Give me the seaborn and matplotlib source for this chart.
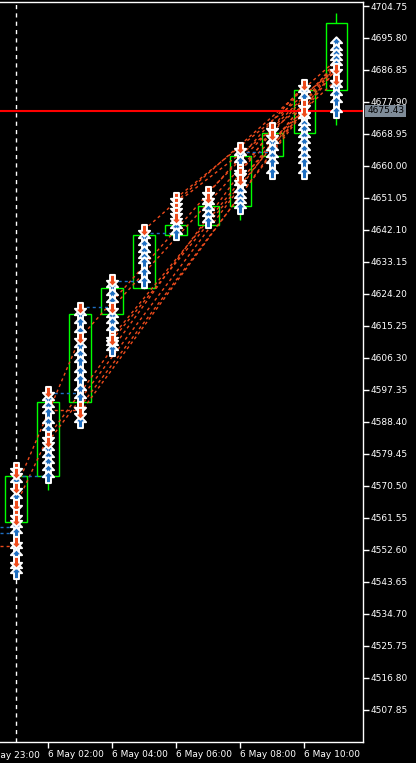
import numpy as np
import pandas as pd
import matplotlib.pyplot as plt
from matplotlib.path import Path
import seaborn as sns

# H1 candles, index 0 = 6 May 01:00
opens = [4560.4, 4573.3, 4594.0, 4618.6, 4625.9, 4640.7, 4643.5, 4648.8, 4662.8, 4669.2, 4681.3]
highs = [4576.9, 4597.9, 4621.4, 4629.2, 4642.9, 4651.6, 4653.8, 4665.6, 4671.2, 4683.5, 4702.8]
lows = [4544.8, 4569.4, 4587.8, 4607.4, 4625.6, 4639.3, 4643.2, 4644.9, 4657.2, 4657.2, 4671.5]
closes = [4573.3, 4594.0, 4618.6, 4625.9, 4640.7, 4643.5, 4648.8, 4662.8, 4669.2, 4681.3, 4700.0]

# trade arrows on each candle
buy_prices = [
    [4571.6, 4567.1, 4559.0, 4557.3, 4553.1, 4551.2, 4547.5, 4546.1],
    [4594.5, 4592.6, 4590.9, 4588.1, 4586.1, 4580.6, 4578.6, 4576.9, 4575.0, 4573.0],
    [4618.3, 4616.1, 4613.6, 4609.4, 4607.1, 4605.2, 4602.4, 4600.1, 4597.3, 4595.1, 4588.4],
    [4626.2, 4623.9, 4621.9, 4617.8, 4616.1, 4614.1, 4609.9, 4608.5],
    [4639.9, 4638.0, 4636.0, 4634.3, 4632.9, 4630.1, 4627.5],
    [4644.1, 4642.6, 4641.0],
    [4649.4, 4647.7, 4646.0, 4644.3],
    [4663.1, 4661.1, 4654.7, 4652.7, 4651.0, 4649.6, 4648.2],
    [4666.4, 4664.5, 4662.5, 4660.8, 4658.0],
    [4680.7, 4679.0, 4673.4, 4671.5, 4670.1, 4668.1, 4666.4, 4664.5, 4662.5, 4660.8, 4658.0],
    [4694.4, 4692.4, 4691.0, 4689.6, 4688.3, 4682.1, 4679.9, 4677.9, 4675.1],
]
sell_prices = [
    [4575.5, 4574.1, 4569.9, 4565.2, 4562.4, 4561.0, 4554.8, 4549.2],
    [4596.8, 4584.2, 4582.8],
    [4620.3, 4611.9, 4592.6, 4590.9],
    [4628.1, 4620.3, 4612.2, 4611.3],
    [4642.1],
    [4651.0, 4649.6, 4648.2, 4646.8, 4645.4],
    [4652.7, 4651.0],
    [4665.0, 4658.9, 4658.0, 4656.1],
    [4670.6, 4668.7],
    [4682.6, 4677.1, 4675.1],
    [4687.1, 4684.0],
]

# dashed trade lines: start candle, start price, end candle, end price
sell_lines = [
    (1, 4582.8, 10, 4689.6), (1, 4584.2, 9, 4682.6), (2, 4590.9, 10, 4688.3),
    (2, 4592.6, 10, 4687.1), (2, 4611.9, 9, 4682.6), (3, 4611.3, 10, 4687.1),
    (3, 4612.2, 10, 4688.3), (3, 4620.3, 9, 4679.0), (4, 4642.1, 10, 4689.6),
    (5, 4651.0, 10, 4687.1), (5, 4649.6, 9, 4677.1), (6, 4652.7, 10, 4688.3),
    (7, 4658.9, 10, 4684.0), (7, 4656.1, 9, 4675.1), (0, 4569.9, 2, 4611.9),
    (0, 4565.2, 1, 4584.2), (1, 4591.8, 2, 4591.8), (-0.5, 4553.7, -0.1, 4553.7),
]
buy_lines = [
    (-0.5, 4559.0, -0.1, 4559.0), (-0.5, 4557.3, -0.1, 4557.3),
    (0, 4573.3, 1, 4573.3), (1, 4596.5, 2, 4596.5), (2, 4620.6, 3, 4620.6),
    (3, 4627.8, 4, 4627.8), (4, 4641.2, 5, 4641.2), (7, 4663.9, 8, 4663.9),
]

ytick_values = [4704.75, 4695.80, 4686.85, 4677.90, 4668.95, 4660.00, 4651.05, 4642.10,
                4633.15, 4624.20, 4615.25, 4606.30, 4597.35, 4588.40, 4579.45, 4570.50,
                4561.55, 4552.60, 4543.65, 4534.70, 4525.75, 4516.80, 4507.85]
xtick_pos = [1, 3, 5, 7, 9]
xtick_labels = ['6 May 02:00', '6 May 04:00', '6 May 06:00', '6 May 08:00', '6 May 10:00']
first_label = '3 May 23:00'
current_price = 4675.43

sns.set_theme(style='dark', rc={'axes.facecolor': 'black', 'figure.facecolor': 'black'})
plt.rcParams['font.family'] = ['DejaVu Sans']

BLUE = '#1f6fc2'
ORANGE = '#ee4b1c'
GREEN = '#00ff00'

fig = plt.figure(figsize=(4.16, 7.63), dpi=100)
ax = fig.add_axes([0, 21 / 763, 363 / 416, 740 / 763])
ax.set_facecolor('black')

# period separator
ax.axvline(0, color='white', lw=1, ls=(0, (3, 3)), zorder=1)

# candles: hollow green bodies, wicks outside the body
idx = np.arange(len(opens))
body_lo = np.minimum(opens, closes)
body_hi = np.maximum(opens, closes)
ax.bar(idx, body_hi - body_lo, bottom=body_lo, width=0.66, facecolor='none',
       edgecolor=GREEN, linewidth=1, zorder=2)
ax.vlines(idx, body_hi, highs, color=GREEN, lw=1, zorder=2)
ax.vlines(idx, lows, body_lo, color=GREEN, lw=1, zorder=2)

# trade lines
for x0, p0, x1, p1 in sell_lines:
    ax.plot([x0, x1], [p0, p1], color=ORANGE, lw=1, ls=(0, (2.2, 2.2)), zorder=3)
for x0, p0, x1, p1 in buy_lines:
    ax.plot([x0, x1], [p0, p1], color=BLUE, lw=1, ls=(0, (2.2, 2.2)), zorder=3)

# current price line
ax.axhline(current_price, color='red', lw=1.5, zorder=3)

# arrows
up = Path([(0, 1), (0.9, 0.05), (0.4, 0.05), (0.4, -0.9), (-0.4, -0.9),
           (-0.4, 0.05), (-0.9, 0.05), (0, 1)], closed=True)
down = Path([(0, -1), (0.9, -0.05), (0.4, -0.05), (0.4, 0.9), (-0.4, 0.9),
             (-0.4, -0.05), (-0.9, -0.05), (0, -1)], closed=True)

buys = pd.DataFrame([(i, p) for i, ps in enumerate(buy_prices) for p in ps], columns=['candle', 'price'])
sells = pd.DataFrame([(i, p) for i, ps in enumerate(sell_prices) for p in ps], columns=['candle', 'price'])
sns.scatterplot(data=buys, x='candle', y='price', marker=up, s=80, color=BLUE,
                edgecolor='white', linewidth=1.4, ax=ax, zorder=5)
sns.scatterplot(data=sells, x='candle', y='price', marker=down, s=80, color=ORANGE,
                edgecolor='white', linewidth=1.4, ax=ax, zorder=6)

ax.set_xlim(-0.5, 10.84)
ax.set_ylim(4498.87, 4705.87)
ax.set_xlabel('')
ax.set_ylabel('')

ax.yaxis.tick_right()
ax.set_yticks(ytick_values)
ax.set_yticklabels([f'{v:.2f}' for v in ytick_values])
ax.set_xticks(xtick_pos)
ax.set_xticklabels(xtick_labels, ha='left')
ax.tick_params(axis='both', colors='white', labelcolor='white', labelsize=6.5,
               length=4, width=1, direction='out', pad=1.5)
ax.tick_params(axis='y', right=True, left=False)
ax.tick_params(axis='x', bottom=True, pad=2)
ax.grid(False)

# first time label sits left of the chart and is cut by the window edge
ax.text(-1, -0.012, first_label, transform=ax.get_xaxis_transform(), ha='left', va='top',
        color='white', fontsize=6.5, clip_on=False)

for side in ['right', 'bottom', 'top']:
    ax.spines[side].set_visible(True)
    ax.spines[side].set_color('white')
    ax.spines[side].set_linewidth(1)
ax.spines['left'].set_visible(False)

ax.annotate(f'{current_price:.2f}', xy=(1, current_price), xycoords=('axes fraction', 'data'),
            xytext=(3, 0), textcoords='offset points', ha='left', va='center', fontsize=6.5,
            color='black', annotation_clip=False, zorder=10,
            bbox=dict(boxstyle='square,pad=0.2', facecolor='#7f8c99', edgecolor='none'))

fig.savefig('out.png', dpi=100, facecolor='black')
